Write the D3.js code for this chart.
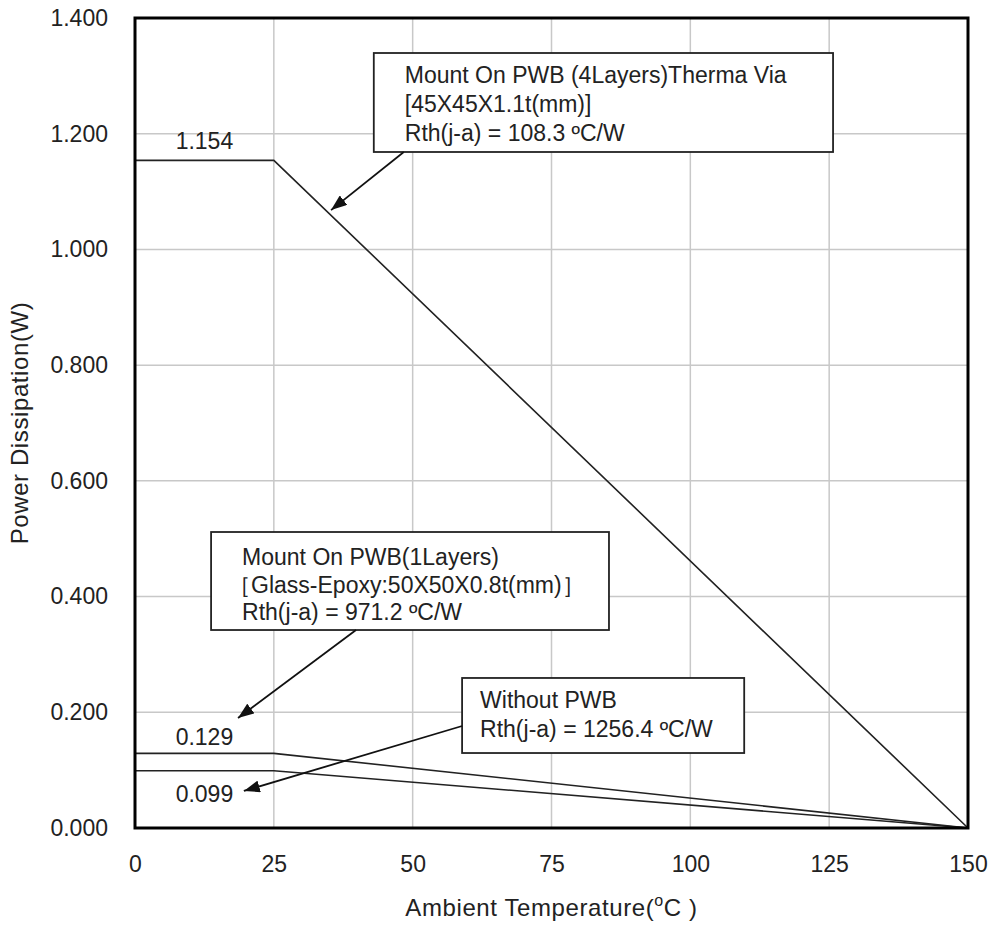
<!DOCTYPE html>
<html>
<head>
<meta charset="utf-8">
<script src="https://cdn.jsdelivr.net/npm/d3@7"></script>
<style>
  html, body { margin: 0; padding: 0; background: #fff; }
  #chart { width: 995px; height: 931px; }
  text { font-family: "Liberation Sans", Arial, Helvetica, sans-serif; fill: #222; }
</style>
</head>
<body>
<div id="chart"></div>
<script>
// data
const temps = [0, 25, 150];
const seriesNames = ["4Layers", "1Layers", "NoPWB"];
const power4Layers = [1.154, 1.154, 0];
const power1Layers = [0.129, 0.129, 0];
const powerNoPWB = [0.099, 0.099, 0];
const xTicks = [0, 25, 50, 75, 100, 125, 150];
const yTicks = [0, 0.2, 0.4, 0.6, 0.8, 1.0, 1.2, 1.4];
const valueLabels = ["1.154", "0.129", "0.099"];

// annotation boxes (data coords) and their text
const notes = [
  { box: [43.0, 125.7, 1.3395, 1.1684], tx: 31, lines: ["Mount On PWB (4Layers)Therma Via", "[45X45X1.1t(mm)]", "Rth(j-a) = 108.3 ºC/W"], from: [48.4, 1.1684], to: [35.3, 1.068], dys: [30, 59, 88] },
  { box: [13.7, 85.35, 0.5116, 0.3422], tx: 31, lines: ["Mount On PWB(1Layers)", "［Glass-Epoxy:50X50X0.8t(mm)］", "Rth(j-a) = 971.2 ºC/W"], from: [39.8, 0.3422], to: [18.55, 0.190], dys: [33, 61, 88] },
  { box: [58.9, 109.7, 0.2593, 0.1296], tx: 18, lines: ["Without PWB", "Rth(j-a) = 1256.4 ºC/W"], from: [58.9, 0.1763], to: [19.6, 0.064], dys: [30, 59] }
];

const width = 995, height = 931;
const margin = { top: 18, right: 27, bottom: 103, left: 135 };
const innerW = width - margin.left - margin.right;
const innerH = height - margin.top - margin.bottom;

const svg = d3.select("#chart").append("svg")
  .attr("width", width)
  .attr("height", height);

const defs = svg.append("defs");
defs.append("marker")
  .attr("id", "arrow")
  .attr("viewBox", "0 0 16 12")
  .attr("refX", 16).attr("refY", 6)
  .attr("markerWidth", 16).attr("markerHeight", 12)
  .attr("markerUnits", "userSpaceOnUse")
  .attr("orient", "auto")
  .append("path")
  .attr("d", "M0,0 L16,6 L0,12 Z")
  .attr("fill", "#111");

const g = svg.append("g")
  .attr("transform", `translate(${margin.left},${margin.top})`);

const x = d3.scaleLinear().domain([0, 150]).range([0, innerW]);
const y = d3.scaleLinear().domain([0, 1.4]).range([innerH, 0]);

// grid
g.append("g").selectAll("line")
  .data(xTicks.slice(1, -1))
  .join("line")
  .attr("x1", d => x(d)).attr("x2", d => x(d))
  .attr("y1", 0).attr("y2", innerH)
  .attr("stroke", "#c8c8c8").attr("stroke-width", 1.5);

g.append("g").selectAll("line")
  .data(yTicks.slice(1, -1))
  .join("line")
  .attr("x1", 0).attr("x2", innerW)
  .attr("y1", d => y(d)).attr("y2", d => y(d))
  .attr("stroke", "#c8c8c8").attr("stroke-width", 1.5);

// axes
const xAxisG = g.append("g")
  .attr("transform", `translate(0,${innerH})`)
  .call(d3.axisBottom(x).tickValues(xTicks).tickSize(0).tickPadding(28).tickFormat(d3.format("d")));
const yAxisG = g.append("g")
  .call(d3.axisLeft(y).tickValues(yTicks).tickSize(0).tickPadding(27).tickFormat(d3.format(".3f")));
[xAxisG, yAxisG].forEach(a => {
  a.select(".domain").remove();
  a.selectAll("text").style("font-size", "23px").attr("fill", "#222")
    .style("font-family", '"Liberation Sans", Arial, sans-serif');
});

// lines
const allSeries = [power4Layers, power1Layers, powerNoPWB];
const line = d3.line().x(d => x(d[0])).y(d => y(d[1]));
g.append("g").selectAll("path")
  .data(allSeries.map(vals => temps.map((t, i) => [t, vals[i]])))
  .join("path")
  .attr("d", line)
  .attr("fill", "none")
  .attr("stroke", "#222")
  .attr("stroke-width", 1.6);

// value labels
const labelDy = [-11, -8, 31];
g.append("g").selectAll("text")
  .data(valueLabels)
  .join("text")
  .attr("x", x(12.5))
  .attr("y", (d, i) => y(allSeries[i][0]) + labelDy[i])
  .attr("text-anchor", "middle")
  .style("font-size", "23px")
  .text(d => d);

// frame
g.append("rect")
  .attr("width", innerW).attr("height", innerH)
  .attr("fill", "none").attr("stroke", "#000").attr("stroke-width", 3);

// annotations
notes.forEach(n => {
  const [x0, x1, y0, y1] = n.box;
  const bx = x(x0), by = y(y0);
  const ng = g.append("g");
  ng.append("rect")
    .attr("x", bx).attr("y", by)
    .attr("width", x(x1) - bx).attr("height", y(y1) - by)
    .attr("fill", "#fff").attr("stroke", "#222").attr("stroke-width", 1.8);
  ng.selectAll("text")
    .data(n.lines)
    .join("text")
    .attr("x", bx + n.tx)
    .attr("dx", d => d.startsWith("［") ? -14 : 0)
    .attr("y", (d, i) => by + n.dys[i])
    .style("font-size", "23px")
    .text(d => d);
  ng.append("line")
    .attr("x1", x(n.from[0])).attr("y1", y(n.from[1]))
    .attr("x2", x(n.to[0])).attr("y2", y(n.to[1]))
    .attr("stroke", "#111").attr("stroke-width", 1.8)
    .attr("marker-end", "url(#arrow)");
});

// axis titles
svg.append("text")
  .attr("transform", "rotate(-90)")
  .attr("x", -(margin.top + innerH / 2))
  .attr("y", 28)
  .attr("text-anchor", "middle")
  .style("font-size", "24px")
  .style("letter-spacing", "0.6px")
  .text("Power Dissipation(W)");

const xt = svg.append("text")
  .attr("x", margin.left + innerW / 2)
  .attr("y", 916)
  .attr("text-anchor", "middle")
  .style("font-size", "24px")
  .style("letter-spacing", "0.6px");
xt.append("tspan").text("Ambient Temperature(");
xt.append("tspan").attr("dy", -10).style("font-size", "16px").text("o");
xt.append("tspan").attr("dy", 10).text("C )");
</script>
</body>
</html>
